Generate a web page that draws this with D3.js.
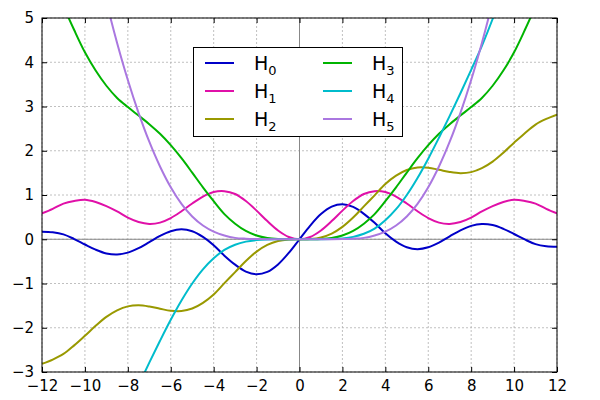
<!DOCTYPE html>
<html><head><meta charset="utf-8">
<script src="https://cdn.jsdelivr.net/npm/d3@7"></script>
<style>body{margin:0;background:#fff}text{font-family:"DejaVu Sans",sans-serif}</style>
</head><body><svg id="c" width="600" height="400"></svg>
<script>
const xs = [-12,-11.5,-11,-10.5,-10,-9.5,-9,-8.5,-8,-7.5,-7,-6.5,-6,-5.5,-5,-4.5,-4,-3.5,-3,-2.5,-2,-1.5,-1,-0.5,0,0.5,1,1.5,2,2.5,3,3.5,4,4.5,5,5.5,6,6.5,7,7.5,8,8.5,9,9.5,10,10.5,11,11.5,12];
const H0 = [0.172,0.159,0.111,0.005,-0.119,-0.236,-0.321,-0.345,-0.303,-0.202,-0.065,0.075,0.182,0.224,0.181,0.053,-0.135,-0.371,-0.5743,-0.730,-0.7908,-0.7367,-0.5687,-0.3096,0,0.3096,0.5687,0.7367,0.7908,0.730,0.5743,0.371,0.135,-0.053,-0.181,-0.224,-0.182,-0.075,0.065,0.202,0.303,0.345,0.321,0.236,0.119,-0.005,-0.111,-0.159,-0.172];
const H1 = [0.584,0.688,0.806,0.865,0.892,0.841,0.749,0.628,0.488,0.389,0.347,0.376,0.478,0.632,0.807,0.964,1.067,1.086,1.022,0.863,0.6467,0.410,0.1984,0.052,0,0.052,0.1984,0.410,0.6467,0.863,1.022,1.086,1.067,0.964,0.807,0.632,0.478,0.376,0.347,0.389,0.488,0.628,0.749,0.841,0.892,0.865,0.806,0.688,0.584];
const H2 = [-2.816,-2.719,-2.592,-2.398,-2.181,-1.957,-1.755,-1.607,-1.517,-1.493,-1.520,-1.570,-1.615,-1.621,-1.565,-1.436,-1.247,-0.992,-0.7436,-0.491,-0.2803,-0.128,-0.0403,-0.005,0,0.005,0.0403,0.128,0.2803,0.491,0.7436,0.992,1.247,1.436,1.565,1.621,1.615,1.570,1.520,1.493,1.517,1.607,1.755,1.957,2.181,2.398,2.592,2.719,2.816];
const H3 = [6.5,5.87,5.27,4.728,4.225,3.813,3.469,3.194,2.987,2.795,2.601,2.383,2.126,1.831,1.506,1.172,0.859,0.568,0.352,0.188,0.0837,0.0276,0.0052,0.0004,0,0.0004,0.0052,0.0276,0.0837,0.188,0.352,0.568,0.859,1.172,1.506,1.831,2.126,2.383,2.601,2.795,2.987,3.194,3.469,3.813,4.225,4.728,5.27,5.87,6.5];
const H4 = [-9.8,-8.9,-8.0,-7.2,-6.416,-5.649,-4.977,-4.372,-3.827,-3.300,-2.789,-2.295,-1.821,-1.385,-1.000,-0.679,-0.430,-0.241,-0.123,-0.054,-0.0193,-0.005,-0.0007,0,0,0,0.0007,0.005,0.0193,0.054,0.123,0.241,0.430,0.679,1.000,1.385,1.821,2.295,2.789,3.300,3.827,4.372,4.977,5.649,6.416,7.2,8.0,8.9,9.8];
const H5 = [13,11.4,10,8.7,7.5,6.4,5.37,4.437,3.600,2.857,2.204,1.644,1.175,0.800,0.515,0.311,0.173,0.085,0.031,0.012,0.0043,0.001,0,0,0,0,0,0.001,0.0043,0.012,0.031,0.085,0.173,0.311,0.515,0.800,1.175,1.644,2.204,2.857,3.600,4.437,5.37,6.4,7.5,8.7,10,11.4,13];
const xTicks = [-12,-10,-8,-6,-4,-2,0,2,4,6,8,10,12];
const yTicks = [-3,-2,-1,0,1,2,3,4,5];
const series = [
  {name:"0", v:H0, c:"#0000c8"},
  {name:"1", v:H1, c:"#e010a8"},
  {name:"2", v:H2, c:"#999900"},
  {name:"3", v:H3, c:"#00b400"},
  {name:"4", v:H4, c:"#00bccc"},
  {name:"5", v:H5, c:"#aa77e0"}
];
const L=42,R=557,T=18,B=372;
const svg=d3.select("#c");
const x=d3.scaleLinear().domain([-12,12]).range([L,R]);
const y=d3.scaleLinear().domain([-3,5]).range([B,T]);
svg.append("defs").append("clipPath").attr("id","cp").append("rect").attr("x",L).attr("y",T).attr("width",R-L).attr("height",B-T);
const g=svg.append("g");
g.selectAll(".gx").data(xTicks).enter().append("line").attr("x1",d=>x(d)).attr("x2",d=>x(d)).attr("y1",T).attr("y2",B).attr("stroke","#b0b0b0").attr("stroke-dasharray","2,2").attr("stroke-width",0.8);
g.selectAll(".gy").data(yTicks).enter().append("line").attr("y1",d=>y(d)).attr("y2",d=>y(d)).attr("x1",L).attr("x2",R).attr("stroke","#b0b0b0").attr("stroke-dasharray","2,2").attr("stroke-width",0.8);
g.append("line").attr("x1",x(0)).attr("x2",x(0)).attr("y1",T).attr("y2",B).attr("stroke","#888").attr("stroke-width",1);
g.append("line").attr("y1",y(0)).attr("y2",y(0)).attr("x1",L).attr("x2",R).attr("stroke","#888").attr("stroke-width",1);
const line=d3.line().x((d,i)=>x(xs[i])).y(d=>y(d)).curve(d3.curveCatmullRom);
const pg=svg.append("g").attr("clip-path","url(#cp)");
series.forEach(s=>pg.append("path").attr("d",line(s.v)).attr("fill","none").attr("stroke",s.c).attr("stroke-width",2));
// axes with inner ticks
const ax=[d3.axisBottom(x).tickValues(xTicks),d3.axisTop(x).tickValues(xTicks).tickFormat(""),d3.axisLeft(y).tickValues(yTicks),d3.axisRight(y).tickValues(yTicks).tickFormat("")];
const fmt=d=>d<0?"\u2212"+Math.abs(d):""+d;
ax[0].tickFormat(fmt).tickSizeInner(-5).tickSizeOuter(0).tickPadding(8);
ax[1].tickSizeInner(-5).tickSizeOuter(0);
ax[2].tickFormat(fmt).tickSizeInner(-5).tickSizeOuter(0).tickPadding(8);
ax[3].tickSizeInner(-5).tickSizeOuter(0);
[[ax[0],`translate(0,${B})`],[ax[1],`translate(0,${T})`],[ax[2],`translate(${L},0)`],[ax[3],`translate(${R},0)`]].forEach(([a,t])=>{
  const gg=svg.append("g").attr("transform",t).call(a);
  gg.selectAll("text").attr("font-size",15).attr("fill","#000").attr("font-family","DejaVu Sans");
  gg.selectAll("line").attr("stroke","#000");
  gg.select(".domain").remove();
});
svg.append("rect").attr("x",L).attr("y",T).attr("width",R-L).attr("height",B-T).attr("fill","none").attr("stroke","#000").attr("stroke-width",1);
// legend
const lg=svg.append("g");
lg.append("rect").attr("x",193.5).attr("y",47.5).attr("width",209).attr("height",89).attr("fill","#fff").attr("stroke","#000").attr("stroke-width",1);
series.forEach((s,i)=>{
  const col=Math.floor(i/3),row=i%3;
  const lx=205+col*118, ly=63+row*28;
  lg.append("line").attr("x1",lx).attr("x2",lx+29).attr("y1",ly).attr("y2",ly).attr("stroke",s.c).attr("stroke-width",2);
  const t=lg.append("text").attr("x",lx+49).attr("y",ly+7).attr("font-size",19).attr("fill","#000").text("H");
  t.append("tspan").attr("font-size",13).attr("dy",5).text(s.name);
});
</script></body></html>
